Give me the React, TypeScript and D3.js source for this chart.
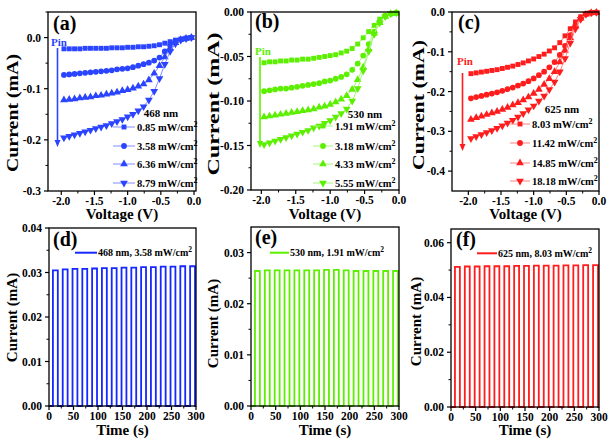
import React from 'react';
import * as d3 from 'd3';

const FONT = '"Liberation Serif", "Times New Roman", serif';

// ---------- I-V data ----------
const voltage = [-1.96, -1.88, -1.80, -1.72, -1.64, -1.56, -1.48, -1.40, -1.32, -1.24, -1.16, -1.08, -1.00,
  -0.92, -0.84, -0.76, -0.68, -0.60, -0.52, -0.44, -0.36, -0.28, -0.20, -0.12, -0.04];

const iv468_085 = [-0.022, -0.022, -0.022, -0.022, -0.021, -0.021, -0.021, -0.021, -0.021, -0.020, -0.020, -0.020, -0.019,
  -0.019, -0.018, -0.018, -0.017, -0.016, -0.014, -0.011, -0.008, -0.005, -0.003, -0.001, 0.000];
const iv468_358 = [-0.073, -0.072, -0.071, -0.070, -0.069, -0.068, -0.067, -0.066, -0.065, -0.064, -0.062, -0.061, -0.060,
  -0.058, -0.055, -0.052, -0.049, -0.045, -0.039, -0.027, -0.015, -0.008, -0.004, -0.002, 0.000];
const iv468_636 = [-0.122, -0.121, -0.120, -0.118, -0.117, -0.116, -0.114, -0.113, -0.111, -0.109, -0.107, -0.104, -0.102,
  -0.099, -0.095, -0.091, -0.083, -0.070, -0.055, -0.038, -0.021, -0.010, -0.004, -0.002, 0.000];
const iv468_879 = [-0.196, -0.193, -0.190, -0.187, -0.184, -0.181, -0.178, -0.175, -0.172, -0.168, -0.164, -0.160, -0.155,
  -0.150, -0.143, -0.135, -0.122, -0.105, -0.080, -0.052, -0.027, -0.012, -0.005, -0.002, 0.000];

const iv530_191 = [-0.057, -0.056, -0.056, -0.055, -0.055, -0.054, -0.054, -0.053, -0.053, -0.052, -0.051, -0.050, -0.049,
  -0.048, -0.046, -0.044, -0.041, -0.036, -0.029, -0.022, -0.015, -0.008, -0.004, -0.002, -0.001];
const iv530_318 = [-0.089, -0.088, -0.087, -0.086, -0.086, -0.085, -0.084, -0.083, -0.082, -0.081, -0.080, -0.078, -0.077,
  -0.075, -0.073, -0.070, -0.065, -0.058, -0.049, -0.036, -0.022, -0.011, -0.005, -0.002, -0.001];
const iv530_433 = [-0.118, -0.117, -0.116, -0.115, -0.114, -0.113, -0.112, -0.111, -0.110, -0.109, -0.107, -0.106, -0.104,
  -0.101, -0.098, -0.094, -0.087, -0.076, -0.062, -0.042, -0.024, -0.012, -0.005, -0.002, -0.001];
const iv530_555 = [-0.149, -0.147, -0.145, -0.143, -0.141, -0.139, -0.137, -0.135, -0.133, -0.130, -0.128, -0.125, -0.122,
  -0.118, -0.114, -0.109, -0.100, -0.086, -0.066, -0.044, -0.025, -0.012, -0.005, -0.002, -0.001];

const iv625_803 = [-0.155, -0.153, -0.151, -0.149, -0.147, -0.145, -0.142, -0.139, -0.136, -0.132, -0.128, -0.123, -0.118,
  -0.112, -0.106, -0.098, -0.090, -0.077, -0.060, -0.042, -0.025, -0.012, -0.004, -0.002, -0.001];
const iv625_1142 = [-0.217, -0.214, -0.211, -0.208, -0.205, -0.202, -0.198, -0.194, -0.190, -0.185, -0.180, -0.174, -0.167,
  -0.159, -0.150, -0.139, -0.126, -0.108, -0.085, -0.058, -0.033, -0.015, -0.005, -0.002, -0.001];
const iv625_1485 = [-0.270, -0.266, -0.262, -0.258, -0.254, -0.250, -0.245, -0.240, -0.234, -0.228, -0.221, -0.214, -0.205,
  -0.195, -0.182, -0.168, -0.150, -0.126, -0.097, -0.065, -0.036, -0.016, -0.006, -0.002, -0.001];
const iv625_1818 = [-0.318, -0.313, -0.308, -0.303, -0.298, -0.292, -0.286, -0.279, -0.272, -0.264, -0.255, -0.246, -0.236,
  -0.224, -0.211, -0.195, -0.176, -0.150, -0.117, -0.078, -0.042, -0.018, -0.006, -0.002, -0.001];

const legend468 = ['0.85', '3.58', '6.36', '8.79'];
const legend530 = ['1.91', '3.18', '4.33', '5.55'];
const legend625 = ['8.03', '11.42', '14.85', '18.18'];

// ---------- I-t data ----------
const pulseOn = [8, 28, 48, 68, 88, 108, 128, 148, 168, 188, 208, 228, 248, 268, 288];
const pulseOff = [18, 38, 58, 78, 98, 118, 138, 158, 178, 198, 218, 238, 258, 278, 298];
const it468 = [0.0305, 0.0307, 0.0308, 0.0308, 0.0309, 0.0310, 0.0310, 0.0311, 0.0311, 0.0312, 0.0312, 0.0313, 0.0313, 0.0314, 0.0314];
const it530 = [0.0264, 0.0265, 0.0265, 0.0265, 0.0265, 0.0265, 0.0265, 0.0266, 0.0266, 0.0265, 0.0264, 0.0264, 0.0264, 0.0264, 0.0264];
const it625 = [0.0512, 0.0513, 0.0513, 0.0514, 0.0514, 0.0514, 0.0515, 0.0515, 0.0516, 0.0516, 0.0516, 0.0517, 0.0517, 0.0518, 0.0518];

const voltTicks = [-2.0, -1.5, -1.0, -0.5, 0.0];
const voltMinor = [-1.75, -1.25, -0.75, -0.25];
const timeTicks = [0, 50, 100, 150, 200, 250, 300];
const timeMinor = [25, 75, 125, 175, 225, 275];

const BLUE = '#2a44ff', BLUE_L = '#7f8cff';
const GREEN = '#5cf000', GREEN_L = '#a8f57c';
const RED = '#ff1c1c', RED_L = '#ff8080';

const fmt = (v: number, d: number) => (Math.abs(v) < 1e-9 ? (0).toFixed(d) : v.toFixed(d));

const symbolTypes = [d3.symbolSquare, d3.symbolCircle, d3.symbolTriangle, d3.symbolTriangle];
const symbolSizes = [24, 26, 26, 26];
const symbolRot = [0, 0, 0, 180];

function Marker({ x, y, k, color }: any) {
  const p = d3.symbol().type(symbolTypes[k]).size(symbolSizes[k])() as string;
  return <path d={p} transform={`translate(${x},${y}) rotate(${symbolRot[k]})`} fill={color} />;
}

function Frame({ fr, xs, ys, xT, xM, yT, yM, xd, yd }: any) {
  const { x0, x1, y0, y1 } = fr;
  return (
    <g>
      {xT.map((t: number) => (
        <g key={'xt' + t}>
          <line x1={xs(t)} x2={xs(t)} y1={y1} y2={y1 + 4} stroke="#000" strokeWidth={1.2} />
          <text x={xs(t)} y={y1 + 14} textAnchor="middle" fontSize={11.5} fontWeight="bold" fontFamily={FONT}>{fmt(t, xd)}</text>
        </g>
      ))}
      {xM.map((t: number) => (
        <line key={'xm' + t} x1={xs(t)} x2={xs(t)} y1={y1} y2={y1 + 2.5} stroke="#000" strokeWidth={1} />
      ))}
      {yT.map((t: number) => (
        <g key={'yt' + t}>
          <line x1={x0 - 4} x2={x0} y1={ys(t)} y2={ys(t)} stroke="#000" strokeWidth={1.2} />
          <text x={x0 - 7} y={ys(t) + 4} textAnchor="end" fontSize={11.5} fontWeight="bold" fontFamily={FONT}>{fmt(t, yd)}</text>
        </g>
      ))}
      {yM.map((t: number) => (
        <line key={'ym' + t} x1={x0 - 2.5} x2={x0} y1={ys(t)} y2={ys(t)} stroke="#000" strokeWidth={1} />
      ))}
      <rect x={x0} y={y0} width={x1 - x0} height={y1 - y0} fill="none" stroke="#000" strokeWidth={1.3} />
    </g>
  );
}

function IVPanel({ c }: any) {
  const { fr } = c;
  const xs = d3.scaleLinear().domain(c.xDom).range([fr.x0, fr.x1]);
  const ys = d3.scaleLinear().domain(c.yDom).range([fr.y1, fr.y0]);
  const line = d3.line<number>().x((_, i) => xs(voltage[i])).y((d) => ys(d));
  return (
    <g>
      {c.series.map((s: number[], k: number) => (
        <g key={k}>
          <path d={line(s) as string} fill="none" stroke={c.light} strokeWidth={1} />
          {s.map((v, i) => <Marker key={i} x={xs(voltage[i])} y={ys(v)} k={k} color={c.color} />)}
        </g>
      ))}
      <Frame fr={fr} xs={xs} ys={ys} xT={voltTicks} xM={voltMinor} yT={c.yT} yM={c.yM} xd={1} yd={c.yd} />
      <text x={c.lab[0]} y={c.lab[1]} fontSize={20} fontWeight="bold" fontFamily={FONT}>{c.label}</text>
      <text x={c.pin[0]} y={c.pin[1]} fontSize={11} fontWeight="bold" fontFamily={FONT} fill={c.color}>Pin</text>
      <line x1={c.arrow[0]} x2={c.arrow[0]} y1={c.arrow[1]} y2={c.arrow[2] - 6} stroke={c.color} strokeWidth={1.6} />
      <path d={`M${c.arrow[0] - 3},${c.arrow[2] - 7} L${c.arrow[0] + 3},${c.arrow[2] - 7} L${c.arrow[0]},${c.arrow[2]} Z`} fill={c.color} />
      <text x={c.leg.title[0]} y={c.leg.title[1]} textAnchor="middle" fontSize={11} fontWeight="bold" fontFamily={FONT}>{c.leg.name}</text>
      {c.leg.items.map((it: string, k: number) => {
        const y = c.leg.ys[k];
        return (
          <g key={k}>
            <line x1={c.leg.lx[0]} x2={c.leg.lx[1]} y1={y} y2={y} stroke={c.light} strokeWidth={1} />
            <Marker x={(c.leg.lx[0] + c.leg.lx[1]) / 2} y={y} k={k} color={c.color} />
            <text x={c.leg.lx[1] + 2} y={y + 4} fontSize={10.5} fontWeight="bold" fontFamily={FONT}>
              {it} mW/cm<tspan dy={-4} fontSize={8}>2</tspan>
            </text>
          </g>
        );
      })}
      <text transform={`translate(${c.yt[0]},${c.yt[1]}) rotate(-90)`} textAnchor="middle" fontSize={16} fontWeight="bold"
        fontFamily={FONT} textLength={c.yt[2]} lengthAdjust="spacingAndGlyphs">Current (mA)</text>
      <text x={(fr.x0 + fr.x1) / 2} y={219} textAnchor="middle" fontSize={15} fontWeight="bold" fontFamily={FONT}>Voltage (V)</text>
    </g>
  );
}

function ITPanel({ c }: any) {
  const { fr } = c;
  const xs = d3.scaleLinear().domain([0, 300]).range([fr.x0, fr.x1]);
  const ys = d3.scaleLinear().domain(c.yDom).range([fr.y1, fr.y0]);
  const pts: [number, number][] = [[0, 0]];
  c.vals.forEach((v: number, i: number) => {
    pts.push([pulseOn[i], 0], [pulseOn[i], v], [pulseOff[i], v], [pulseOff[i], 0]);
  });
  pts.push([300, 0]);
  const line = d3.line<[number, number]>().x((d) => xs(d[0])).y((d) => ys(d[1]));
  return (
    <g>
      <path d={line(pts) as string} fill="none" stroke={c.color} strokeWidth={1.8} />
      <Frame fr={fr} xs={xs} ys={ys} xT={timeTicks} xM={timeMinor} yT={c.yT} yM={c.yM} xd={0} yd={2} />
      <text x={c.lab[0]} y={c.lab[1]} fontSize={20} fontWeight="bold" fontFamily={FONT}>{c.label}</text>
      <line x1={c.leg[0]} x2={c.leg[1]} y1={c.leg[2]} y2={c.leg[2]} stroke={c.color} strokeWidth={2} />
      <text x={c.leg[1] + 1} y={c.leg[2] + 3.5} fontSize={10} fontWeight="bold" fontFamily={FONT}>
        {c.legText} mW/cm<tspan dy={-4} fontSize={7.5}>2</tspan>
      </text>
      <text transform={`translate(${c.yt[0]},${c.yt[1]}) rotate(-90)`} textAnchor="middle" fontSize={15} fontWeight="bold"
        fontFamily={FONT}>Current (mA)</text>
      <text x={(fr.x0 + fr.x1) / 2} y={435} textAnchor="middle" fontSize={15} fontWeight="bold" fontFamily={FONT}>Time (s)</text>
    </g>
  );
}

const ivPanels = [
  {
    label: '(a)', lab: [53, 30], fr: { x0: 48, x1: 196, y0: 12, y1: 191 }, xDom: [-2.2, 0.03], yDom: [-0.3, 0.05],
    yT: [0, -0.1, -0.2, -0.3], yM: [0.05, -0.05, -0.15, -0.25], yd: 1, color: BLUE, light: BLUE_L,
    series: [iv468_085, iv468_358, iv468_636, iv468_879], pin: [51, 46], arrow: [57.5, 48, 147],
    leg: { name: '468 nm', title: [161, 117], items: legend468, ys: [127, 146, 164, 183], lx: [113, 135] },
    yt: [18, 113, 118],
  },
  {
    label: '(b)', lab: [255, 28], fr: { x0: 251, x1: 399, y0: 12, y1: 190 }, xDom: [-2.15, 0], yDom: [-0.2, 0],
    yT: [0, -0.05, -0.1, -0.15, -0.2], yM: [-0.025, -0.075, -0.125, -0.175], yd: 2, color: GREEN, light: GREEN_L,
    series: [iv530_191, iv530_318, iv530_433, iv530_555], pin: [255, 55], arrow: [260, 57, 148],
    leg: { name: '530 nm', title: [365, 118], items: legend530, ys: [126, 146, 164, 183], lx: [313, 333] },
    yt: [219, 104, 143],
  },
  {
    label: '(c)', lab: [458, 29], fr: { x0: 452, x1: 599, y0: 12, y1: 191 }, xDom: [-2.25, 0], yDom: [-0.45, 0],
    yT: [0, -0.1, -0.2, -0.3, -0.4], yM: [-0.05, -0.15, -0.25, -0.35], yd: 1, color: RED, light: RED_L,
    series: [iv625_803, iv625_1142, iv625_1485, iv625_1818], pin: [457, 65], arrow: [462.5, 73, 151],
    leg: { name: '625 nm', title: [562, 113], items: legend625, ys: [124, 143, 163, 181], lx: [510, 530] },
    yt: [424, 105, 130],
  },
];

const itPanels = [
  {
    label: '(d)', lab: [53, 246], fr: { x0: 49, x1: 196, y0: 228, y1: 406 }, yDom: [0, 0.04],
    yT: [0, 0.01, 0.02, 0.03, 0.04], yM: [0.005, 0.015, 0.025, 0.035], color: '#1428ff', vals: it468,
    leg: [75, 97, 252.7], legText: '468 nm, 3.58', yt: [17, 317.5],
  },
  {
    label: '(e)', lab: [255, 244], fr: { x0: 251, x1: 399, y0: 227, y1: 406 }, yDom: [0, 0.035],
    yT: [0, 0.01, 0.02, 0.03], yM: [0.005, 0.015, 0.025], color: GREEN, vals: it530,
    leg: [270, 289, 252.7], legText: '530 nm, 1.91', yt: [218, 323.5],
  },
  {
    label: '(f)', lab: [456, 246], fr: { x0: 451, x1: 599, y0: 229, y1: 407 }, yDom: [0, 0.065],
    yT: [0, 0.02, 0.04, 0.06], yM: [0.01, 0.03, 0.05], color: RED, vals: it625,
    leg: [477, 497, 253.3], legText: '625 nm, 8.03', yt: [421, 321.5],
  },
];

export default function App() {
  return (
    <svg width={614} height={442} style={{ position: 'absolute', left: 0, top: 0, background: '#fff' }}>
      <rect width={614} height={442} fill="#fff" />
      {ivPanels.map((c) => <IVPanel key={c.label} c={c} />)}
      {itPanels.map((c) => <ITPanel key={c.label} c={c} />)}
    </svg>
  );
}
